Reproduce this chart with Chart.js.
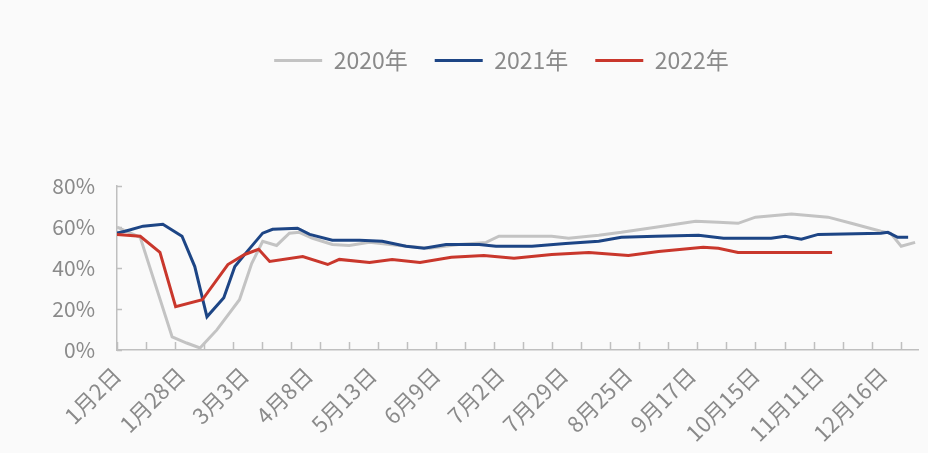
<!DOCTYPE html>
<html>
<head>
<meta charset="utf-8">
<script src="https://cdn.jsdelivr.net/npm/chart.js@4.4.0/dist/chart.umd.min.js"></script>
<style>
  html, body { margin: 0; padding: 0; background: #fafafa; }
  canvas { display: block; }
</style>
</head>
<body>
<canvas id="chart" width="928" height="453"></canvas>
<script>
// x positions are in axis units: a tick mark every 5, a date label every 11
const dateLabels = ['1月2日', '1月28日', '3月3日', '4月8日', '5月13日', '6月9日', '7月2日',
  '7月29日', '8月25日', '9月17日', '10月15日', '11月11日', '12月16日'];
const yTicks = [0, 20, 40, 60, 80];
const seriesNames = ['2020年', '2021年', '2022年'];

const x2020 = [0, 4.0, 9.5, 12.0, 14.3, 17.2, 21.1, 23.2, 25.1, 27.5, 29.7, 31.4, 33.7, 37.1, 40.0,
  43.5, 48.6, 53.8, 58.9, 63.6, 65.8, 74.9, 77.8, 83.0, 86.9, 92.8, 99.7, 103.6, 107.0, 110.0,
  116.2, 122.5, 126.5, 131.6, 133.3, 135.1, 137.5];
const y2020 = [59.9, 55, 6.4, 3.4, 1, 9.8, 24.5, 42.2, 53, 51, 57, 57.4, 54.5, 51.5, 51,
  52.5, 51, 49.6, 51.5, 52.5, 55.5, 55.5, 54.5, 56, 57.4, 59.9, 62.8, 62.3, 61.8, 64.8,
  66.3, 64.8, 61.8, 57.9, 56.9, 50.6, 52.5];

const x2021 = [0, 1.4, 4.5, 7.9, 11.2, 13.4, 15.5, 18.4, 20.3, 22.3, 25.1, 26.8, 31.1, 33.2, 37.1,
  41.8, 45.7, 49.8, 52.9, 56.7, 62.4, 65.3, 71.5, 77.3, 83.0, 86.9, 92.8, 100.2, 104.5, 112.7,
  115.1, 117.9, 120.8, 131.6, 132.8, 134.5, 136.3];
const y2021 = [57, 57.9, 60.4, 61.3, 55.5, 40.7, 16.2, 25.5, 40.7, 47.6, 57, 58.9, 59.4, 56.4, 53.5,
  53.5, 53, 50.6, 49.6, 51.5, 51.5, 50.6, 50.6, 52, 53, 55, 55.5, 56, 54.5, 54.5,
  55.5, 54, 56.4, 57, 57.4, 55, 55];

const x2022 = [0, 4.0, 7.4, 10.1, 14.7, 19.1, 22.0, 24.4, 26.3, 32.0, 36.3, 38.3, 43.5, 47.4, 52.2,
  57.6, 63.2, 68.4, 74.9, 81.3, 88.1, 93.3, 101.0, 103.6, 107.0, 123.2];
const y2022 = [56.4, 55.5, 47.6, 21.1, 24.5, 41.7, 46.6, 49.1, 43.2, 45.6, 41.7, 44.2, 42.7, 44.2, 42.7,
  45.2, 46.1, 44.7, 46.6, 47.6, 46.1, 48.1, 50.1, 49.6, 47.6, 47.6];

const axisColor = '#bfbfbf';
const textColor = '#8a8a8a';
const fontFamily = '"Noto Sans CJK SC", "Noto Sans", sans-serif';

function toPoints(xs, ys) {
  return xs.map((x, i) => ({ x, y: ys[i] }));
}

// short tick marks drawn inside the plot, like the original
const innerTicks = {
  id: 'innerTicks',
  beforeDatasetsDraw(chart) {
    const { ctx, chartArea, scales } = chart;
    ctx.save();
    ctx.strokeStyle = axisColor;
    ctx.lineWidth = 1.5;
    ctx.beginPath();
    for (let v = 0; v <= 135; v += 5) {
      const px = Math.round(scales.x.getPixelForValue(v)) + 0.5;
      ctx.moveTo(px, chartArea.bottom);
      ctx.lineTo(px, chartArea.bottom - 8);
    }
    yTicks.forEach(v => {
      const py = Math.round(scales.y.getPixelForValue(v)) + 0.5;
      ctx.moveTo(chartArea.left, py);
      ctx.lineTo(chartArea.left + 5, py);
    });
    ctx.stroke();
    ctx.restore();
  },
};

// push the plot down below the legend and centre the legend over the plot
const legendGap = {
  id: 'legendGap',
  beforeInit(chart) {
    const fit = chart.legend.fit;
    chart.legend.fit = function () {
      fit.bind(chart.legend)();
      this.height += 104;
    };
  },
  afterLayout(chart) {
    chart.legend.left = 85;
  },
};

new Chart(document.getElementById('chart'), {
  type: 'line',
  data: {
    datasets: [
      { label: seriesNames[0], data: toPoints(x2020, y2020), borderColor: '#c3c3c3', backgroundColor: '#c3c3c3', order: 3 },
      { label: seriesNames[1], data: toPoints(x2021, y2021), borderColor: '#1d4585', backgroundColor: '#1d4585', order: 2 },
      { label: seriesNames[2], data: toPoints(x2022, y2022), borderColor: '#c9372c', backgroundColor: '#c9372c', order: 1 },
    ],
  },
  options: {
    responsive: false,
    animation: false,
    devicePixelRatio: 1,
    layout: { padding: { left: 0, right: 10, top: 22, bottom: 0 } },
    elements: {
      line: { borderWidth: 3, tension: 0 },
      point: { radius: 0 },
    },
    plugins: {
      tooltip: { enabled: false },
      legend: {
        position: 'top',
        labels: {
          boxWidth: 48,
          boxHeight: 0,
          padding: 27,
          color: textColor,
          font: { family: fontFamily, size: 23 },
          sort: (a, b) => a.datasetIndex - b.datasetIndex,
        },
      },
    },
    scales: {
      x: {
        type: 'linear',
        min: 0,
        max: 138,
        afterBuildTicks: scale => {
          scale.ticks = dateLabels.map((_, i) => ({ value: i * 11 }));
        },
        afterFit: scale => { scale.height = 103; },
        grid: { display: false, drawTicks: false },
        border: { display: true, color: axisColor, width: 1.5 },
        ticks: {
          autoSkip: false,
          minRotation: 45,
          maxRotation: 45,
          padding: 12,
          color: textColor,
          font: { family: fontFamily, size: 22 },
          callback: (value, index) => dateLabels[index],
        },
      },
      y: {
        min: 0,
        max: 80,
        afterBuildTicks: scale => {
          scale.ticks = yTicks.map(v => ({ value: v }));
        },
        afterFit: scale => { scale.width = 117; },
        grid: { display: false, drawTicks: false },
        border: { display: true, color: axisColor, width: 1.5 },
        ticks: {
          padding: 22,
          color: textColor,
          font: { family: fontFamily, size: 21 },
          callback: v => v + '%',
        },
      },
    },
  },
  plugins: [innerTicks, legendGap],
});
</script>
</body>
</html>
